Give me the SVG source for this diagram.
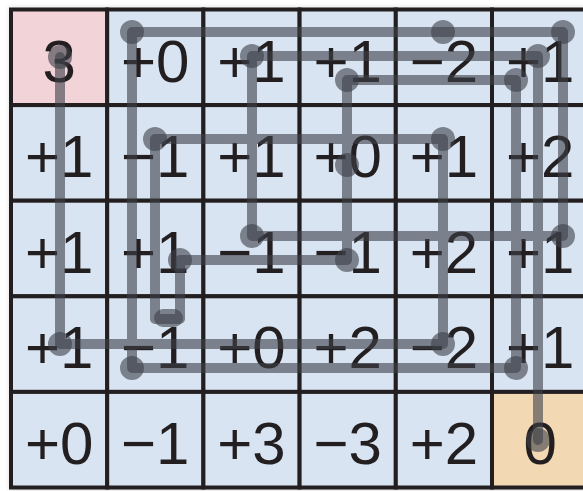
<svg xmlns="http://www.w3.org/2000/svg" width="583" height="491" viewBox="0 0 583 491">
<defs>
<filter id="sh" x="-5%" y="-5%" width="110%" height="110%"><feGaussianBlur stdDeviation="2.5"/></filter>
<style>
.c rect{stroke:#231f20;stroke-width:4}
.b{fill:#d9e4f2}.p{fill:#f2d3d7}.o{fill:#f2d9b4}
.c text{font-family:"Liberation Sans",Arial,sans-serif;font-size:60px;fill:#231f20;text-anchor:middle}
.path{fill:none;stroke:#3c4048;stroke-opacity:0.6;stroke-width:10;stroke-linejoin:round;stroke-linecap:round}
.dot{fill:#3c4048;fill-opacity:0.6}
</style>
</defs>
<rect width="583" height="491" fill="#ffffff"/>
<rect x="9" y="7" width="590" height="484" fill="#000" opacity="0.12" filter="url(#sh)"/>
<g id="cells">
<g id="r0c0" class="c"><rect class="p" x="11" y="9.5" width="96.2" height="95.6"/><text x="59.1" y="81.5">3</text></g>
<g id="r0c1" class="c"><rect class="b" x="107.2" y="9.5" width="96.2" height="95.6"/><text x="155.3" y="81.5">+0</text></g>
<g id="r0c2" class="c"><rect class="b" x="203.4" y="9.5" width="96.2" height="95.6"/><text x="251.5" y="81.5">+1</text></g>
<g id="r0c3" class="c"><rect class="b" x="299.6" y="9.5" width="96.2" height="95.6"/><text x="347.7" y="81.5">+1</text></g>
<g id="r0c4" class="c"><rect class="b" x="395.8" y="9.5" width="96.2" height="95.6"/><text x="443.9" y="81.5">−2</text></g>
<g id="r0c5" class="c"><rect class="b" x="492" y="9.5" width="96.2" height="95.6"/><text x="540.1" y="81.5">+1</text></g>

<g id="r1c0" class="c"><rect class="b" x="11" y="105.1" width="96.2" height="95.6"/><text x="59.1" y="177">+1</text></g>
<g id="r1c1" class="c"><rect class="b" x="107.2" y="105.1" width="96.2" height="95.6"/><text x="155.3" y="177">−1</text></g>
<g id="r1c2" class="c"><rect class="b" x="203.4" y="105.1" width="96.2" height="95.6"/><text x="251.5" y="177">+1</text></g>
<g id="r1c3" class="c"><rect class="b" x="299.6" y="105.1" width="96.2" height="95.6"/><text x="347.7" y="177">+0</text></g>
<g id="r1c4" class="c"><rect class="b" x="395.8" y="105.1" width="96.2" height="95.6"/><text x="443.9" y="177">+1</text></g>
<g id="r1c5" class="c"><rect class="b" x="492" y="105.1" width="96.2" height="95.6"/><text x="540.1" y="177">+2</text></g>

<g id="r2c0" class="c"><rect class="b" x="11" y="200.7" width="96.2" height="95.6"/><text x="59.1" y="272.7">+1</text></g>
<g id="r2c1" class="c"><rect class="b" x="107.2" y="200.7" width="96.2" height="95.6"/><text x="155.3" y="272.7">+1</text></g>
<g id="r2c2" class="c"><rect class="b" x="203.4" y="200.7" width="96.2" height="95.6"/><text x="251.5" y="272.7">−1</text></g>
<g id="r2c3" class="c"><rect class="b" x="299.6" y="200.7" width="96.2" height="95.6"/><text x="347.7" y="272.7">−1</text></g>
<g id="r2c4" class="c"><rect class="b" x="395.8" y="200.7" width="96.2" height="95.6"/><text x="443.9" y="272.7">+2</text></g>
<g id="r2c5" class="c"><rect class="b" x="492" y="200.7" width="96.2" height="95.6"/><text x="540.1" y="272.7">+1</text></g>

<g id="r3c0" class="c"><rect class="b" x="11" y="296.3" width="96.2" height="95.6"/><text x="59.1" y="368.3">+1</text></g>
<g id="r3c1" class="c"><rect class="b" x="107.2" y="296.3" width="96.2" height="95.6"/><text x="155.3" y="368.3">−1</text></g>
<g id="r3c2" class="c"><rect class="b" x="203.4" y="296.3" width="96.2" height="95.6"/><text x="251.5" y="368.3">+0</text></g>
<g id="r3c3" class="c"><rect class="b" x="299.6" y="296.3" width="96.2" height="95.6"/><text x="347.7" y="368.3">+2</text></g>
<g id="r3c4" class="c"><rect class="b" x="395.8" y="296.3" width="96.2" height="95.6"/><text x="443.9" y="368.3">−2</text></g>
<g id="r3c5" class="c"><rect class="b" x="492" y="296.3" width="96.2" height="95.6"/><text x="540.1" y="368.3">+1</text></g>

<g id="r4c0" class="c"><rect class="b" x="11" y="391.9" width="96.2" height="95.6"/><text x="59.1" y="463.9">+0</text></g>
<g id="r4c1" class="c"><rect class="b" x="107.2" y="391.9" width="96.2" height="95.6"/><text x="155.3" y="463.9">−1</text></g>
<g id="r4c2" class="c"><rect class="b" x="203.4" y="391.9" width="96.2" height="95.6"/><text x="251.5" y="463.9">+3</text></g>
<g id="r4c3" class="c"><rect class="b" x="299.6" y="391.9" width="96.2" height="95.6"/><text x="347.7" y="463.9">−3</text></g>
<g id="r4c4" class="c"><rect class="b" x="395.8" y="391.9" width="96.2" height="95.6"/><text x="443.9" y="463.9">+2</text></g>
<g id="r4c5" class="c"><rect class="o" x="492" y="391.9" width="96.2" height="95.6"/><text x="540.1" y="463.9">0</text></g>
</g>
<g id="connectors">
<path class="path" d="M60,57 L60,344 L443,344 L443,139 L155,139 L155,319 L180,319 L180,260 L347,260 L347,165 L347,80 L516,80 L516,368 L132,368 L132,32 L443,32 L563,32 L563,236 L252,236 L252,56 L538,56 L538,440"/>
<circle class="dot" cx="60" cy="57" r="12"/>
<circle class="dot" cx="60" cy="344" r="12"/>
<circle class="dot" cx="443" cy="344" r="12"/>
<circle class="dot" cx="443" cy="139" r="12"/>
<circle class="dot" cx="155" cy="139" r="12"/>
<rect class="dot" x="154" y="309" width="29" height="18" rx="9"/>
<circle class="dot" cx="180" cy="260" r="12"/>
<circle class="dot" cx="347" cy="260" r="12"/>
<circle class="dot" cx="347" cy="165" r="12"/>
<circle class="dot" cx="347" cy="80" r="12"/>
<circle class="dot" cx="516" cy="80" r="12"/>
<circle class="dot" cx="516" cy="368" r="12"/>
<circle class="dot" cx="132" cy="368" r="12"/>
<circle class="dot" cx="132" cy="32" r="12"/>
<circle class="dot" cx="443" cy="32" r="12"/>
<circle class="dot" cx="563" cy="32" r="12"/>
<circle class="dot" cx="563" cy="236" r="12"/>
<circle class="dot" cx="252" cy="236" r="12"/>
<circle class="dot" cx="252" cy="56" r="12"/>
<circle class="dot" cx="538" cy="56" r="12"/>
<circle class="dot" cx="538" cy="440" r="12"/>
</g>
</svg>
